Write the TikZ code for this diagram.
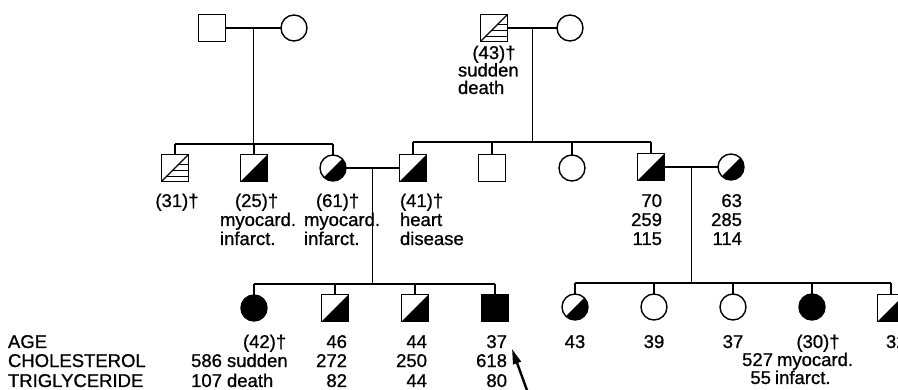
\documentclass[tikz,border=0pt]{standalone}
\usepackage{fontspec}
\setmainfont{Liberation Sans}[FakeBold=0.9]
\usetikzlibrary{calc,arrows.meta}
\newcommand\hatchit[1]{%
  \draw[line width=1.1pt] (#1.south west) -- (#1.north east);
  \foreach \f in {0.2,0.42,0.64}{\draw[line width=1.1pt] ($(#1.south west)!\f!(#1.north east)$) -- ($(#1.south east)!\f!(#1.north east)$);}%
}
\begin{document}
\begin{tikzpicture}[x=1pt,y=-1pt,
  conn/.style={line width=1.2pt},
  sqr/.style={draw, rectangle, minimum size=27pt, inner sep=0pt, outer sep=0pt, line width=1.4pt},
  crc/.style={draw, circle, minimum size=26pt, inner sep=0pt, outer sep=0pt, line width=1.4pt},
  half/.style={path picture={\fill[black] (path picture bounding box.south west) -- (path picture bounding box.south east) -- (path picture bounding box.north east) -- cycle;}},
  full/.style={fill=black},
  txt/.style={inner sep=0pt, outer sep=0pt, font=\fontsize{18.5}{19}\selectfont}
]
\fill[white] (0,0) rectangle (898,390);
\useasboundingbox (0,0) rectangle (898,390);

% generation I
\node[sqr] (gA) at (212,28) {};
\node[crc] (gB) at (294,28) {};
\node[sqr] (gC) at (494,28) {};
\hatchit{gC}
\node[crc] (gD) at (570,28) {};

% generation II
\node[sqr] (p1) at (175,168) {};
\hatchit{p1}
\node[sqr,half] (p2) at (254,168) {};
\node[crc,half] (p3) at (333,168) {};
\node[sqr,half] (p4) at (413,168) {};
\node[sqr] (p5) at (492,168) {};
\node[crc] (p6) at (572,168) {};
\node[sqr,half] (p7) at (651,167) {};
\node[crc,half] (p8) at (731,167) {};

% generation III
\node[crc,full] (c1) at (254,308) {};
\node[sqr,half] (c2) at (335,308) {};
\node[sqr,half] (c3) at (415,308) {};
\node[sqr,full] (c4) at (495,308) {};
\node[crc,half] (c5) at (575,307) {};
\node[crc] (c6) at (654,307) {};
\node[crc] (c7) at (733,307) {};
\node[crc,full] (c8) at (812,307) {};
\node[sqr,half] (c9) at (891,308) {};

% sibship line levels
\coordinate (lA) at (0,144);
\coordinate (lB) at (0,142);
\coordinate (lC) at (0,284);
\coordinate (lD) at (0,283);

% couples and descent
\draw[conn] (gA.east) -- (gB.west);
\coordinate (mA) at ($(gA.east)!0.5!(gB.west)$);
\draw[conn] (mA) -- (mA |- lA);
\draw[conn] (p1.north |- lA) -- (p3.north |- lA);
\foreach \n in {p1,p2,p3} \draw[conn] (\n.north) -- (\n.north |- lA);

\draw[conn] (gC.east) -- (gD.west);
\coordinate (mC) at ($(gC.east)!0.5!(gD.west)$);
\draw[conn] (mC) -- (mC |- lB);
\draw[conn] (p4.north |- lB) -- (p7.north |- lB);
\foreach \n in {p4,p5,p6,p7} \draw[conn] (\n.north) -- (\n.north |- lB);

\draw[conn] (p3.east) -- (p4.west);
\coordinate (mB) at ($(p3.east)!0.5!(p4.west)$);
\draw[conn] (mB) -- (mB |- lC);
\draw[conn] (c1.north |- lC) -- (c4.north |- lC);
\foreach \n in {c1,c2,c3,c4} \draw[conn] (\n.north) -- (\n.north |- lC);

\draw[conn] (p7.east) -- (p8.west);
\coordinate (mD) at ($(p7.east)!0.5!(p8.west)$);
\draw[conn] (mD) -- (mD |- lD);
\draw[conn] (c5.north |- lD) -- (c9.north |- lD);
\foreach \n in {c5,c6,c7,c8,c9} \draw[conn] (\n.north) -- (\n.north |- lD);

% texts generation I
\node[txt,anchor=base] (tg1) at (494,59) {(43)†};
\node[txt,anchor=base west] (tg2) at (458,76.5) {sudden};
\node[txt,anchor=base west] (tg3) at (458,94) {death};

% texts generation II
\node[txt,anchor=base] (tp1) at (177,207) {(31)†};
\node[txt,anchor=base west] (tp2a) at (235,207) {(25)†};
\node[txt,anchor=base west] (tp2b) at (220,226) {myocard.};
\node[txt,anchor=base west] (tp2c) at (220,245) {infarct.};
\node[txt,anchor=base west] (tp3a) at (316,207) {(61)†};
\node[txt,anchor=base west] (tp3b) at (304,226) {myocard.};
\node[txt,anchor=base west] (tp3c) at (304,245) {infarct.};
\node[txt,anchor=base west] (tp4a) at (400,207) {(41)†};
\node[txt,anchor=base west] (tp4b) at (400,226) {heart};
\node[txt,anchor=base west] (tp4c) at (400,245) {disease};
\node[txt,anchor=base east] (tp7a) at (662,207) {70};
\node[txt,anchor=base east] (tp7b) at (662,226) {259};
\node[txt,anchor=base east] (tp7c) at (662,245) {115};
\node[txt,anchor=base east] (tp8a) at (742,207) {63};
\node[txt,anchor=base east] (tp8b) at (742,226) {285};
\node[txt,anchor=base east] (tp8c) at (742,245) {114};

% row labels
\node[txt,anchor=base west] (ra) at (8,348) {AGE};
\node[txt,anchor=base west] (rc) at (8,367) {CHOLESTEROL};
\node[txt,anchor=base west] (rt) at (8,387) {TRIGLYCERIDE};

% texts generation III
\node[txt,anchor=base west] (tc1a) at (243,348) {(42)†};
\node[txt,anchor=base east] (tc1b) at (222,367) {586};
\node[txt,anchor=base west] (tc1c) at (227,367) {sudden};
\node[txt,anchor=base east] (tc1d) at (222,387) {107};
\node[txt,anchor=base west] (tc1e) at (227,387) {death};
\node[txt,anchor=base east] (tc2a) at (347,348) {46};
\node[txt,anchor=base east] (tc2b) at (347,367) {272};
\node[txt,anchor=base east] (tc2c) at (347,387) {82};
\node[txt,anchor=base east] (tc3a) at (427,348) {44};
\node[txt,anchor=base east] (tc3b) at (427,367) {250};
\node[txt,anchor=base east] (tc3c) at (427,387) {44};
\node[txt,anchor=base east] (tc4a) at (507,348) {37};
\node[txt,anchor=base east] (tc4b) at (507,367) {618};
\node[txt,anchor=base east] (tc4c) at (507,387) {80};
\node[txt,anchor=base] (tc5) at (575,348) {43};
\node[txt,anchor=base] (tc6) at (654,348) {39};
\node[txt,anchor=base] (tc7) at (733,348) {37};
\node[txt,anchor=base] (tc8a) at (818,348) {(30)†};
\node[txt,anchor=base east] (tc8b) at (773,366) {527};
\node[txt,anchor=base west] (tc8c) at (777,366) {myocard.};
\node[txt,anchor=base east] (tc8d) at (771,384) {55};
\node[txt,anchor=base west] (tc8e) at (775,384) {infarct.};
\node[txt,anchor=base west] (tc9) at (886,348) {32};

% proband arrow
\coordinate (arT) at (528,393);
\coordinate (arH) at (512,349);
\draw[line width=2.4pt, -{Triangle[length=15pt,width=8pt]}] (arT) -- (arH);
\end{tikzpicture}
\end{document}
